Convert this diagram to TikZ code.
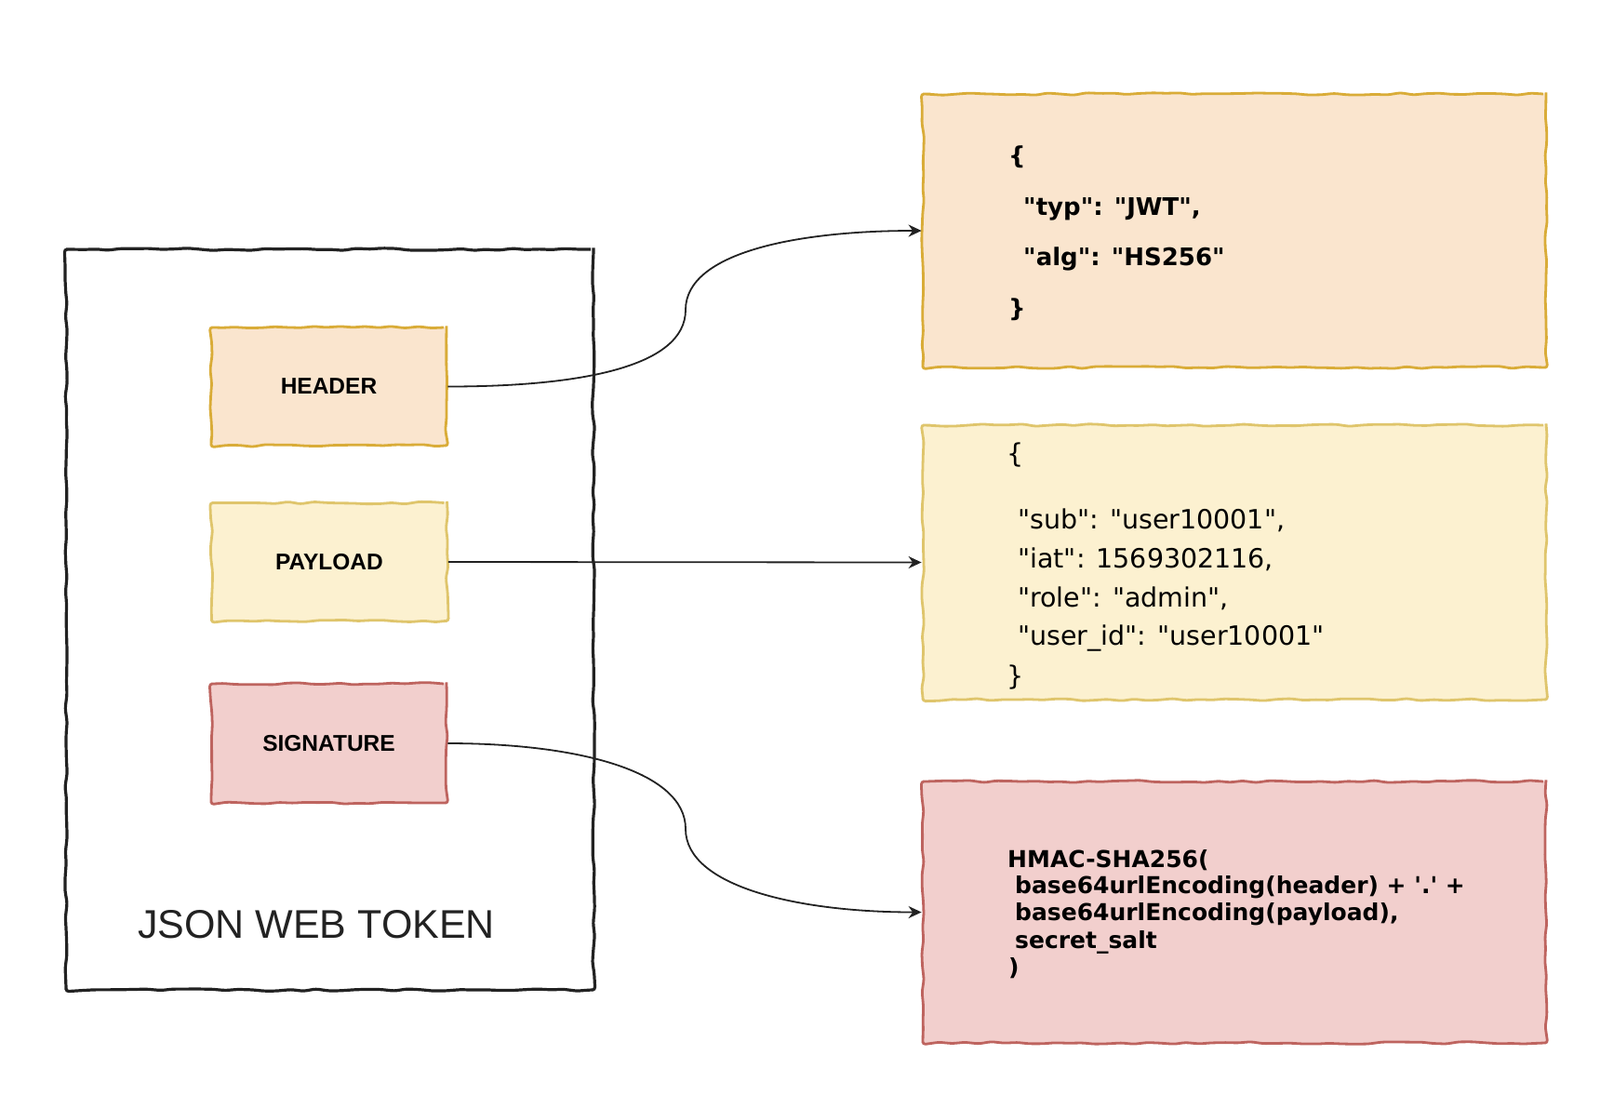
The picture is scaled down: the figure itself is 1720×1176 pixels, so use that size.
\documentclass[tikz,border=0pt]{standalone}
\usepackage{fontspec}
\setmainfont{Liberation Sans}
\newfontfamily\djv{DejaVu Sans}
\usetikzlibrary{arrows.meta,decorations.pathmorphing}
\definecolor{hdrfill}{HTML}{FAE5CE}
\definecolor{hdrline}{HTML}{D9AC38}
\definecolor{plfill}{HTML}{FCF1D0}
\definecolor{plline}{HTML}{DFC56C}
\definecolor{sgfill}{HTML}{F2CFCD}
\definecolor{sgline}{HTML}{BE645F}
\definecolor{inkc}{HTML}{222222}
\tikzset{
  sketch/.style={decorate, decoration={random steps, segment length=14pt, amplitude=1.3pt}, rounded corners=3pt},
  outerbox/.style={sketch, draw=inkc, line width=3.2pt, inner sep=0pt},
  part/.style={sketch, line width=2.8pt, inner sep=0pt, minimum width=253pt, minimum height=127pt,
    font=\bfseries\fontsize{24.5pt}{28pt}\selectfont},
  infobox/.style={sketch, line width=2.8pt, inner sep=0pt, minimum width=670pt},
  jb/.style={anchor=base west, inner sep=0pt, font=\djv\bfseries\fontsize{26pt}{30pt}\selectfont},
  jp/.style={anchor=base west, inner sep=0pt, font=\djv\fontsize{28.5pt}{32pt}\selectfont},
  js/.style={anchor=base west, inner sep=0pt, font=\djv\bfseries\fontsize{25pt}{29pt}\selectfont},
  conn/.style={draw=inkc, line width=1.8pt, -{Stealth[length=14pt,width=13pt]}}
}
\begin{document}
\begin{tikzpicture}[x=1pt,y=-1pt]
\fill[white] (0,0) rectangle (1720,1176);
\useasboundingbox (0,0) rectangle (1720,1176);

% outer token box
\node[outerbox, minimum width=567pt, minimum height=796pt] (jwt) at (354.5,666) {};
\node[anchor=base, inner sep=0pt, text=inkc, font=\fontsize{43pt}{48pt}\selectfont] (jwtlabel) at (340,1008) {JSON WEB TOKEN};

% parts
\node[part, fill=hdrfill, draw=hdrline] (H) at (353.5,415.5) {HEADER};
\node[part, fill=plfill, draw=plline] (P) at (354,604) {PAYLOAD};
\node[part, fill=sgfill, draw=sgline, minimum height=128pt] (S) at (353.5,799) {SIGNATURE};

% detail boxes
\node[infobox, fill=hdrfill, draw=hdrline, minimum height=294pt] (B1) at (1327,248) {};
\node[infobox, fill=plfill, draw=plline, minimum height=295pt] (B2) at (1327,604.5) {};
\node[infobox, fill=sgfill, draw=sgline, minimum height=281pt] (B3) at (1327,980.5) {};

% header text
\node[jb] (h1) at (1084,176) {\{};
\node[jb] (h2) at (1100,231) {"typ": "JWT",};
\node[jb] (h3) at (1100,285) {"alg": "HS256"};
\node[jb] (h4) at (1084,340) {\}};

% payload text
\node[jp] (p1) at (1082,497) {\{};
\node[jp] (p2) at (1094,568) {"sub": "user10001",};
\node[jp] (p3) at (1094,610) {"iat": 1569302116,};
\node[jp] (p4) at (1094,652) {"role": "admin",};
\node[jp] (p5) at (1094,693) {"user\_id": "user10001"};
\node[jp] (p6) at (1082,736) {\}};

% signature text
\node[js] (s1) at (1083,932) {HMAC-SHA256(};
\node[js] (s2) at (1091,960) {base64urlEncoding(header) + \textquotesingle.\textquotesingle\ +};
\node[js] (s3) at (1091,989) {base64urlEncoding(payload),};
\node[js] (s4) at (1091,1019) {secret\_salt};
\node[js] (s5) at (1084,1048) {)};

% connectors
\coordinate (hm) at (737,333);
\coordinate (sm) at (737,891);
\draw[conn] (H.east) .. controls +(140,0) and +(0,62) .. (hm) .. controls +(0,-62) and +(-132,0) .. (B1.west);
\draw[conn] (P.east) -- (B2.west);
\draw[conn] (S.east) .. controls +(140,0) and +(0,-62) .. (sm) .. controls +(0,62) and +(-132,0) .. (B3.west);
\end{tikzpicture}
\end{document}
